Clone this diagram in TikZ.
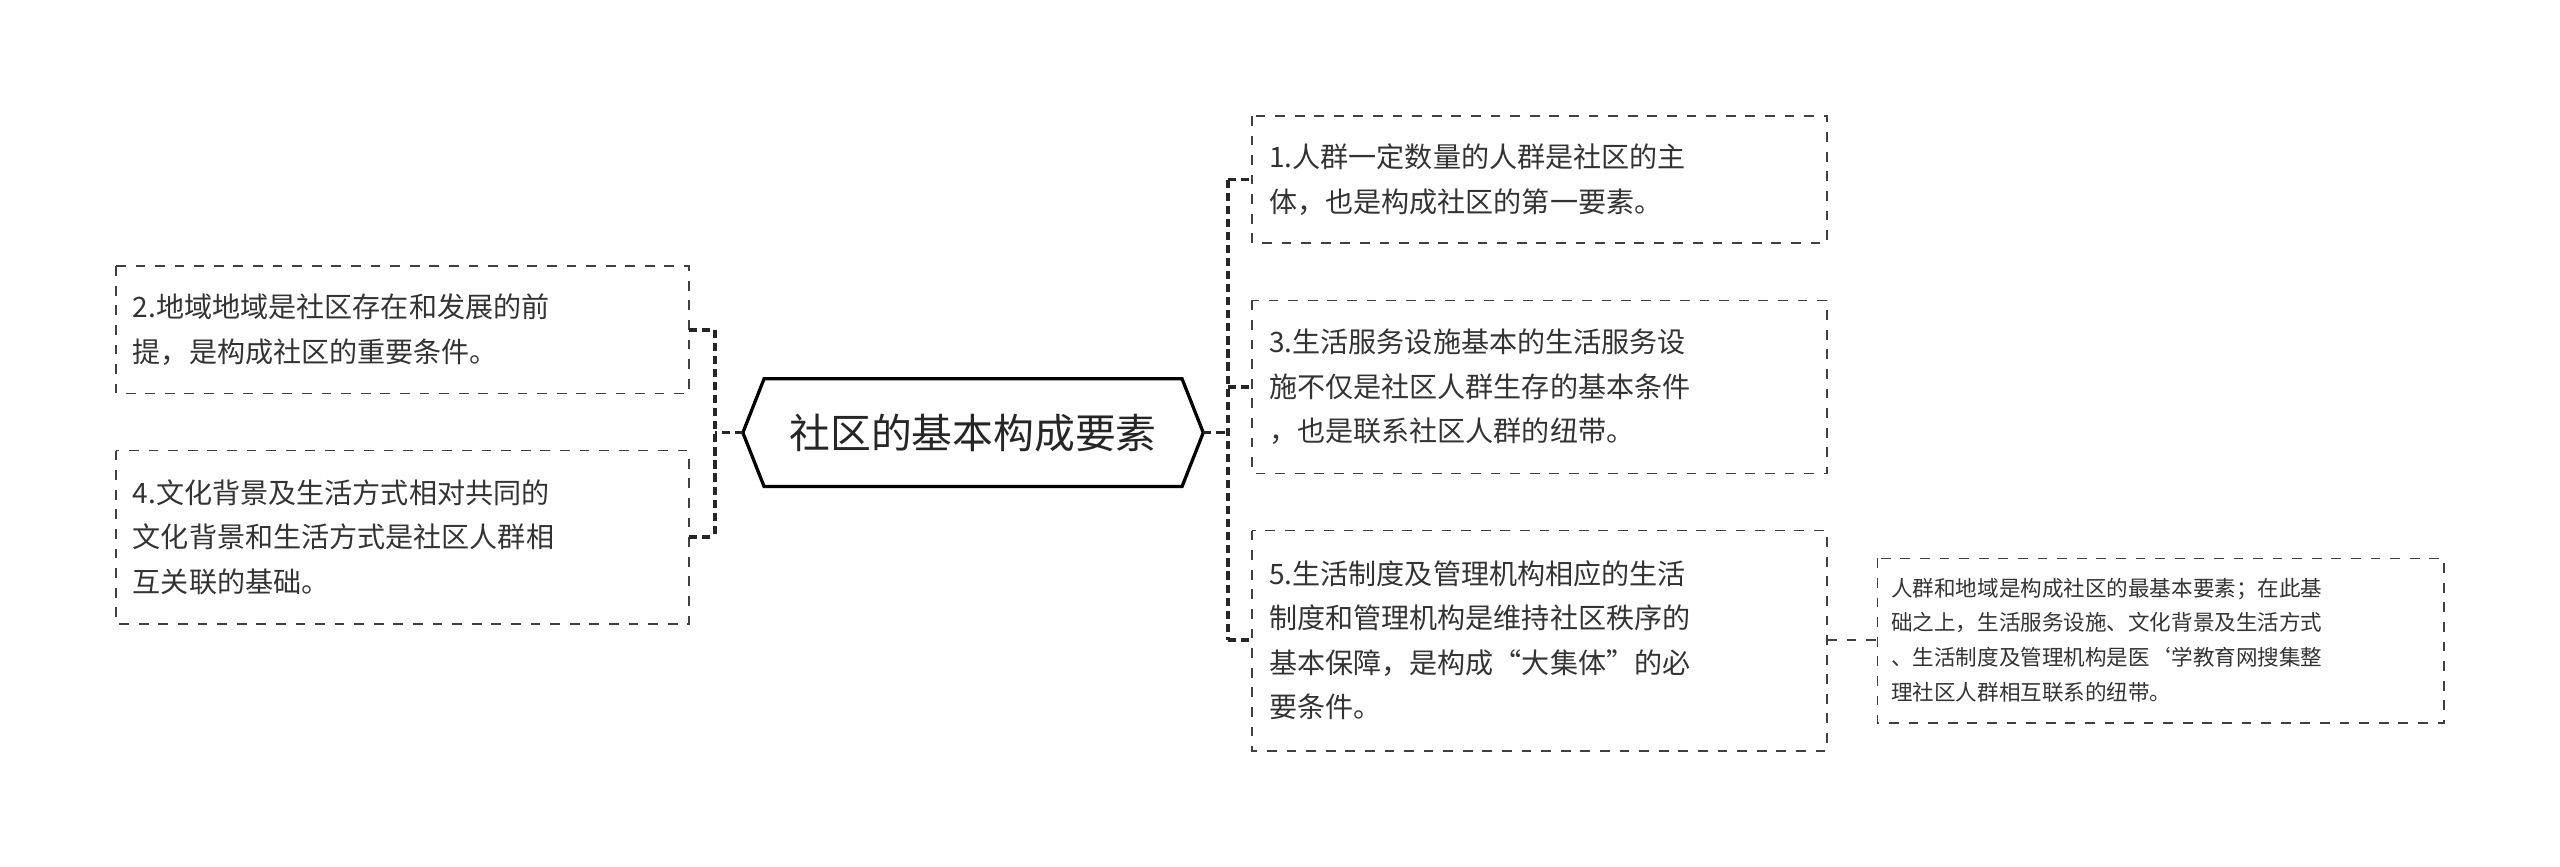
\documentclass[tikz,border=0pt]{standalone}
\usepackage{fontspec}
\setmainfont{Noto Sans CJK SC}
\begin{document}
\begin{tikzpicture}[x=0.5pt,y=-0.5pt,
  box/.style={draw=black!75,dashed,line width=0.5pt},
  txt/.style={anchor=west,align=left,font=\fontsize{8.6}{13.6}\selectfont,text=black!80,inner sep=0pt},
  small/.style={anchor=west,align=left,font=\fontsize{6.6}{10.6}\selectfont,text=black!80,inner sep=0pt},
  conn/.style={draw=black!85,line width=1.1pt,dash pattern=on 2.5pt off 1.5pt}]
\useasboundingbox (0,0) rectangle (1568,531);
% center
\draw[line width=1pt,fill=white] (455,265)--(468,232)--(724,232)--(737,265)--(724,298)--(468,298)--cycle;
\node[font=\fontsize{12.5}{14}\selectfont,text=black!85] (c) at (596,265) {社区的基本构成要素};
\coordinate (cl) at (455,265); \coordinate (cr) at (737,265);
% boxes
\draw[box] (71,163) rectangle (422,241); \coordinate (b2) at (422,202);
\node[txt] (t2) at (81,202) {2.地域地域是社区存在和发展的前\\提，是构成社区的重要条件。};
\draw[box] (71,276) rectangle (422,382); \coordinate (b4) at (422,329);
\node[txt] (t4) at (81,329) {4.文化背景及生活方式相对共同的\\文化背景和生活方式是社区人群相\\互关联的基础。};
\draw[box] (767,71) rectangle (1119,149); \coordinate (b1) at (767,110);
\node[txt] (t1) at (777,110) {1.人群一定数量的人群是社区的主\\体，也是构成社区的第一要素。};
\draw[box] (767,184) rectangle (1119,290); \coordinate (b3) at (767,237);
\node[txt] (t3) at (777,237) {3.生活服务设施基本的生活服务设\\施不仅是社区人群生存的基本条件\\，也是联系社区人群的纽带。};
\draw[box] (767,325) rectangle (1119,460); \coordinate (b5) at (767,392); \coordinate (b5r) at (1119,392);
\node[txt] (t5) at (777,392) {5.生活制度及管理机构相应的生活\\制度和管理机构是维持社区秩序的\\基本保障，是构成“大集体”的必\\要条件。};
\draw[box] (1150,342) rectangle (1497,443); \coordinate (n) at (1150,392);
\node[small] (tn) at (1158,392) {人群和地域是构成社区的最基本要素；在此基\\础之上，生活服务设施、文化背景及生活方式\\、生活制度及管理机构是医`学教育网搜集整\\理社区人群相互联系的纽带。};
% connectors
\draw[conn] (cl) -- (438,265) (438,202) -- (438,329) (b2) -- (438,202) (b4) -- (438,329);
\draw[conn] (cr) -- (752,265) (752,110) -- (752,392) (752,110) -- (b1) (752,237) -- (b3) (752,392) -- (b5);
\draw[box] (b5r) -- (n);
\end{tikzpicture}
\end{document}
